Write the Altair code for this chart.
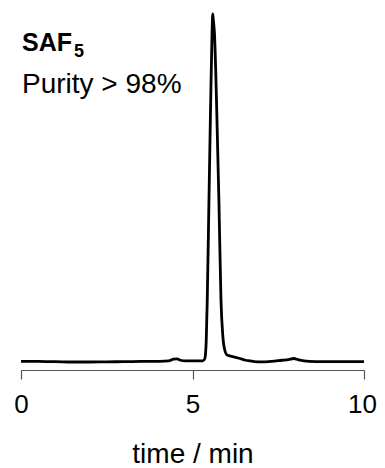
import altair as alt
import pandas as pd

# chromatogram (time in min, relative intensity in %)
times = [0.0, 0.5, 1.0, 1.5, 2.0, 2.5, 3.0, 3.5, 4.0, 4.3, 4.45, 4.55, 4.65, 4.8,
         5.0, 5.2, 5.30, 5.36, 5.40, 5.43, 5.48, 5.53, 5.57, 5.59, 5.61, 5.64,
         5.70, 5.77, 5.83, 5.88, 5.92, 6.01, 6.2, 6.38, 6.55, 6.68, 6.8, 7.0,
         7.3, 7.6, 7.8, 7.95, 8.1, 8.4, 8.8, 9.5, 10.0]
intensity = [0.2, 0.15, 0.1, 0.0, 0.0, 0.05, 0.1, 0.15, 0.2, 0.3, 0.8, 0.9, 0.5, 0.3,
             0.3, 0.3, 0.3, 1.0, 6.0, 17.8, 46.5, 75.0, 94.5, 100.0, 98.0, 94.5,
             75.0, 46.5, 17.8, 8.0, 4.4, 2.0, 1.5, 1.0, 0.5, 0.3, 0.1, 0.05,
             0.2, 0.5, 0.7, 1.0, 0.6, 0.2, 0.1, 0.1, 0.1]
x_ticks = [0, 5, 10]
title_text = "SAF"
subscript_text = "5"
purity_text = "Purity > 98%"

df = pd.DataFrame({"t": times, "i": intensity})

FONT = "Liberation Sans"

line = alt.Chart(df).mark_line(color="black", strokeWidth=2.8, interpolate="monotone").encode(
    x=alt.X("t:Q", scale=alt.Scale(domain=[0, 10], nice=False),
            axis=alt.Axis(values=x_ticks, title="time / min", grid=False,
                          tickSize=9, tickColor="#555", domainColor="#555",
                          domainWidth=1.2, tickWidth=1.2,
                          labelFont=FONT, labelFontSize=26, labelColor="black",
                          labelOffset={"condition": {"test": "datum.value == 10", "value": -2}, "value": 0},
                          labelPadding=12, titleFont=FONT, titleFontSize=28,
                          titleFontWeight="normal", titleColor="black",
                          titlePadding=23, labelFlush=False)),
    y=alt.Y("i:Q", scale=alt.Scale(domain=[-2.3, 100], nice=False, zero=False), axis=None),
)

t1 = alt.Chart(pd.DataFrame({"s": [title_text]})).mark_text(
    align="left", baseline="alphabetic", font=FONT, fontSize=25, fontWeight="bold", color="black"
).encode(x=alt.value(1), y=alt.value(37), text="s:N")

t2 = alt.Chart(pd.DataFrame({"s": [subscript_text]})).mark_text(
    align="left", baseline="alphabetic", font=FONT, fontSize=18, fontWeight="bold", color="black"
).encode(x=alt.value(53), y=alt.value(43), text="s:N")

t3 = alt.Chart(pd.DataFrame({"s": [purity_text]})).mark_text(
    align="left", baseline="alphabetic", font=FONT, fontSize=28, color="black"
).encode(x=alt.value(1), y=alt.value(79), text="s:N")

chart = alt.layer(line, t1, t2, t3).properties(
    width=343, height=356,
    padding={"left": 13, "top": 6, "right": 13, "bottom": 98},
    autosize=alt.AutoSizeParams(type="none"),
).configure_view(stroke=None)

chart.save("out.html", embed_options={"renderer": "svg", "actions": False})
